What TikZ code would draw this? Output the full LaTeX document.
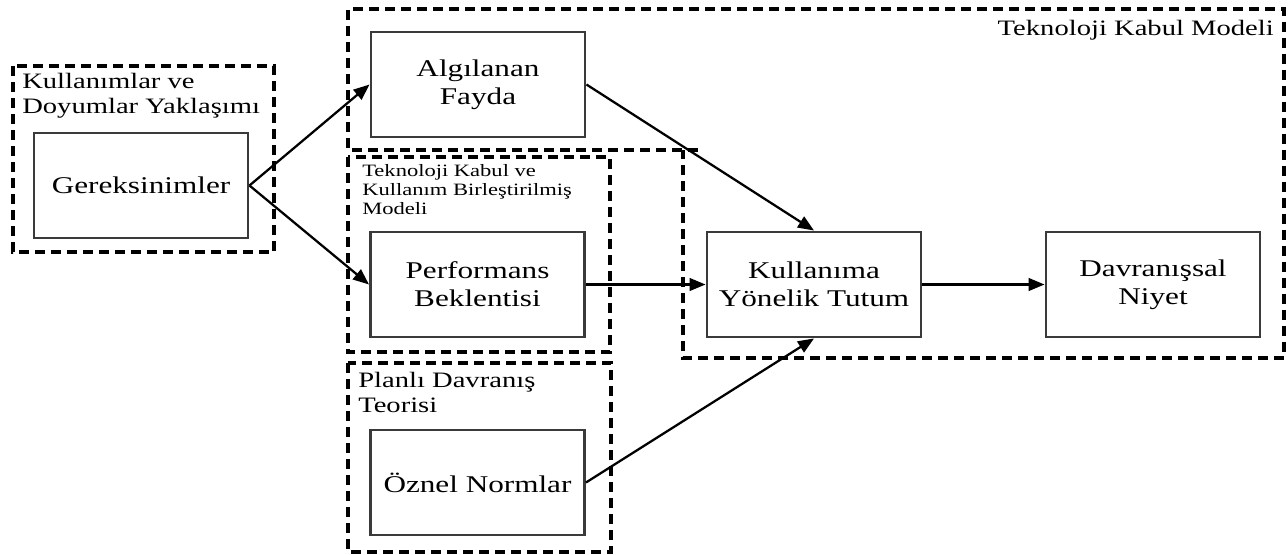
\documentclass[tikz,border=0pt]{standalone}
\usepackage{fontspec}
\setmainfont{Liberation Serif}[FakeStretch=1.3]
\usetikzlibrary{arrows.meta}
\definecolor{boxline}{HTML}{3A3A3A}
\begin{document}
\begin{tikzpicture}[x=0.75pt,y=-0.75pt,
  grp/.style={draw=black,line width=2.5pt,dash pattern=on 7.5pt off 4.5pt},
  box/.style={draw=boxline,line width=2.2pt,fill=white,minimum width=160.5pt,minimum height=78.75pt,inner sep=0pt,align=center,font=\fontsize{18}{21}\selectfont},
  lbl/.style={inner sep=0pt,align=left,font=\fontsize{16.5}{18.8}\selectfont},
  smalllbl/.style={inner sep=0pt,align=left,font=\fontsize{13}{14.5}\selectfont},
  arr/.style={line width=1.7pt,-{Triangle[length=12pt,width=9.5pt]}}]
\useasboundingbox (0,0) rectangle (1288,554);
% group frames
\draw[grp] (13,66) rectangle (274,252);
\draw[grp] (698,150) -- (348,150) -- (348,9) -- (1284,9) -- (1284,358) -- (683,358) -- (683,150);
\draw[grp] (348,157) rectangle (610,352);
\draw[grp] (348,363) rectangle (611,552);
% group labels
\node[lbl,anchor=north west] (lku) at (22,73) {Kullanımlar ve\\Doyumlar Yaklaşımı};
\node[lbl,anchor=north east] (ltkm) at (1274,20) {Teknoloji Kabul Modeli};
\node[smalllbl,anchor=north west] (ltk) at (362,164) {Teknoloji Kabul ve\\Kullanım Birleştirilmiş\\Modeli};
\node[lbl,anchor=north west] (lpd) at (358,372) {Planlı Davranış\\Teorisi};
% boxes
\node[box] (ger) at (141,185.5) {Gereksinimler};
\node[box] (alg) at (478,84.5) {Algılanan\\Fayda};
\node[box] (perf) at (477.5,284.5) {Performans\\Beklentisi};
\node[box] (oz) at (477.5,482.5) {Öznel Normlar};
\node[box] (kul) at (814,284.5) {Kullanıma\\Yönelik Tutum};
\node[box] (dav) at (1153,284.5) {Davranışsal\\Niyet};
% connectors
\draw[arr] (ger.east) -- (alg.west);
\draw[arr] (ger.east) -- (perf.west);
\draw[arr] (alg.east) -- (kul.north);
\draw[arr] (perf.east) -- (kul.west);
\draw[arr] (oz.east) -- (kul.south);
\draw[arr] (kul.east) -- (dav.west);
\end{tikzpicture}
\end{document}
